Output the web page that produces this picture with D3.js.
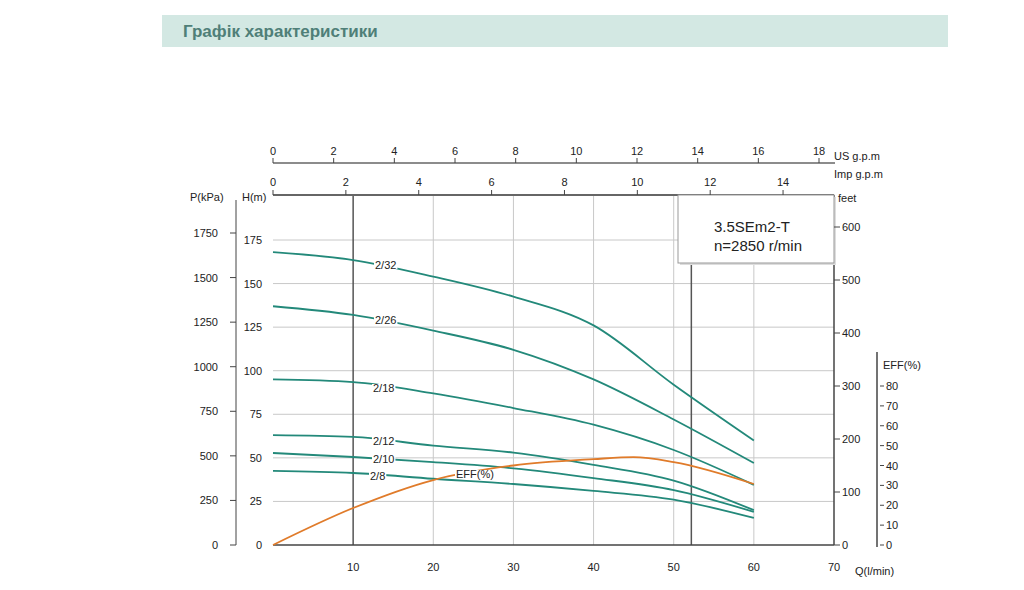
<!DOCTYPE html>
<meta charset="utf-8">
<head>
    <script src="https://cdnjs.cloudflare.com/ajax/libs/d3/7.8.5/d3.min.js"></script>
</head>
<style>
    body { margin: 0; background: #fff; }
    text { font-family: "Liberation Sans", Arial, sans-serif; fill: #222; }
</style>
<body>
<svg id="chart" width="1024" height="590"></svg>
<script>
// flow points (l/min)
var flow = [0, 10, 20, 30, 40, 50, 60];
// head curves (m)
var curves = [
    {name: "2/32", h: [168, 163.5, 154, 142.5, 126, 92, 60], lx: 386, ly: 265},
    {name: "2/26", h: [137, 132, 123, 112, 95, 72, 47], lx: 386, ly: 320},
    {name: "2/18", h: [95, 93.5, 87, 78.6, 69, 54.5, 34.5], lx: 384, ly: 388},
    {name: "2/12", h: [63, 62, 57, 53, 46, 37, 20], lx: 384, ly: 441},
    {name: "2/10", h: [52.8, 50.5, 47.6, 44, 38.4, 31.5, 19], lx: 384, ly: 459},
    {name: "2/8", h: [42.5, 41.3, 38, 35, 31, 26, 15.5], lx: 381, ly: 476}
];
var effFlow = [0, 10, 20, 30, 40, 45, 50, 60];
var effVals = [0, 18.6, 32.7, 40, 43.2, 44.2, 41.7, 30.7];
var pTicks = [0, 250, 500, 750, 1000, 1250, 1500, 1750];
var hTicks = [0, 25, 50, 75, 100, 125, 150, 175];
var ftTicks = [0, 100, 200, 300, 400, 500, 600];
var effTicks = [0, 10, 20, 30, 40, 50, 60, 70, 80];
var usTicks = [0, 2, 4, 6, 8, 10, 12, 14, 16, 18];
var impTicks = [0, 2, 4, 6, 8, 10, 12, 14];
var qTicks = [10, 20, 30, 40, 50, 60, 70];

var svg = d3.select("#chart");
var green = "#23897a", orange = "#e07b2a", gridC = "#c8c8c8", axC = "#444";

// title banner
svg.append("rect").attr("x", 162).attr("y", 15).attr("width", 786).attr("height", 32).attr("fill", "#d3e8e3");
svg.append("text").attr("x", 183).attr("y", 37).attr("font-size", 17).attr("font-weight", "bold")
    .style("fill", "#4f7f78").text("Графік характеристики");

var x = d3.scaleLinear().domain([0, 70]).range([273, 834]);
var y = d3.scaleLinear().domain([0, 175]).range([545, 240]);
var yP = d3.scaleLinear().domain([0, 1750]).range([545, 233]);
var yFt = d3.scaleLinear().domain([0, 600]).range([545, 227]);
var yEff = d3.scaleLinear().domain([0, 80]).range([545, 386]);
var xUs = d3.scaleLinear().domain([0, 1]).range([273, 273 + 3.785 * 561 / 70]);
var xImp = d3.scaleLinear().domain([0, 1]).range([273, 273 + 4.546 * 561 / 70]);

// grid
svg.append("g").selectAll("line").data(hTicks.slice(1)).join("line")
    .attr("x1", 273).attr("x2", 834).attr("y1", d => y(d)).attr("y2", d => y(d))
    .attr("stroke", gridC);
svg.append("g").selectAll("line").data([20, 30, 40, 50, 60]).join("line")
    .attr("x1", d => x(d)).attr("x2", d => x(d)).attr("y1", 195).attr("y2", 545)
    .attr("stroke", gridC);
svg.append("g").selectAll("line").data([10, 52.2]).join("line")
    .attr("x1", d => x(d)).attr("x2", d => x(d)).attr("y1", 195).attr("y2", 545)
    .attr("stroke", "#555").attr("stroke-width", 1.5);

// frame lines
svg.append("line").attr("x1", 273).attr("x2", 834).attr("y1", 195).attr("y2", 195).attr("stroke", "#666").attr("stroke-width", 2);
svg.append("line").attr("x1", 273).attr("x2", 834).attr("y1", 545).attr("y2", 545).attr("stroke", axC).attr("stroke-width", 1.5);
svg.append("line").attr("x1", 834).attr("x2", 834).attr("y1", 195).attr("y2", 545).attr("stroke", axC).attr("stroke-width", 1.5);

// model box
svg.append("rect").attr("x", 680).attr("y", 197).attr("width", 156).attr("height", 68).attr("fill", "#ddd");
svg.append("rect").attr("x", 678).attr("y", 195).attr("width", 156).attr("height", 68).attr("fill", "#fff").attr("stroke", "#999");
svg.append("text").attr("x", 714).attr("y", 232).attr("font-size", 15).text("3.5SEm2-T");
svg.append("text").attr("x", 714).attr("y", 251).attr("font-size", 15).text("n=2850 r/min");

// curves
var line = d3.line().curve(d3.curveMonotoneX);
curves.forEach(c => {
    svg.append("path").attr("d", line(flow.map((q, i) => [x(q), y(c.h[i])])))
        .attr("fill", "none").attr("stroke", green).attr("stroke-width", 1.8);
});
svg.append("path").attr("d", line(effFlow.map((q, i) => [x(q), yEff(effVals[i])])))
    .attr("fill", "none").attr("stroke", orange).attr("stroke-width", 1.8);

function label(tx, ty, t) {
    var g = svg.append("g");
    var tt = g.append("text").attr("x", tx).attr("y", ty).attr("font-size", 11).text(t);
    var b = tt.node().getBBox();
    g.insert("rect", "text").attr("x", b.x - 1).attr("y", b.y + 2).attr("width", b.width + 2).attr("height", b.height - 4).attr("fill", "#fff");
}
curves.forEach(c => label(c.lx - 11, c.ly + 4, c.name));
label(456, 478, "EFF(%)");

// left axes
svg.append("line").attr("x1", 236).attr("x2", 236).attr("y1", 200).attr("y2", 545).attr("stroke", axC);
svg.append("g").selectAll("line").data(pTicks).join("line")
    .attr("x1", 230).attr("x2", 236).attr("y1", d => yP(d)).attr("y2", d => yP(d)).attr("stroke", axC);
svg.append("g").selectAll("text").data(pTicks).join("text")
    .attr("x", 218).attr("y", d => yP(d) + 4).attr("text-anchor", "end").attr("font-size", 11).text(d => d);
svg.append("g").selectAll("text").data(hTicks).join("text")
    .attr("x", 262).attr("y", d => y(d) + 4).attr("text-anchor", "end").attr("font-size", 11).text(d => d);
svg.append("text").attr("x", 190).attr("y", 201).attr("font-size", 11).text("P(kPa)");
svg.append("text").attr("x", 242).attr("y", 201).attr("font-size", 11).text("H(m)");

// feet axis
svg.append("g").selectAll("line").data(ftTicks).join("line")
    .attr("x1", 834).attr("x2", 840).attr("y1", d => yFt(d)).attr("y2", d => yFt(d)).attr("stroke", axC);
svg.append("g").selectAll("text").data(ftTicks).join("text")
    .attr("x", 842).attr("y", d => yFt(d) + 4).attr("font-size", 11).text(d => d);
svg.append("text").attr("x", 838).attr("y", 202).attr("font-size", 11).text("feet");

// eff axis
svg.append("line").attr("x1", 877).attr("x2", 877).attr("y1", 352).attr("y2", 547).attr("stroke", axC).attr("stroke-width", 1.5);
svg.append("g").selectAll("line").data(effTicks).join("line")
    .attr("x1", 880).attr("x2", 884).attr("y1", d => yEff(d)).attr("y2", d => yEff(d)).attr("stroke", axC);
svg.append("g").selectAll("text").data(effTicks).join("text")
    .attr("x", 886).attr("y", d => yEff(d) + 4).attr("font-size", 11).text(d => d);
svg.append("text").attr("x", 883).attr("y", 369).attr("font-size", 11).text("EFF(%)");

// bottom axis labels
svg.append("g").selectAll("text").data(qTicks).join("text")
    .attr("x", d => x(d)).attr("y", 571).attr("text-anchor", "middle").attr("font-size", 11).text(d => d);
svg.append("text").attr("x", 855).attr("y", 575).attr("font-size", 11).text("Q(l/min)");

// top axes
svg.append("line").attr("x1", 273).attr("x2", 835).attr("y1", 163).attr("y2", 163).attr("stroke", "#666").attr("stroke-width", 1.5);
svg.append("g").selectAll("line").data(usTicks).join("line")
    .attr("x1", d => xUs(d)).attr("x2", d => xUs(d)).attr("y1", 158).attr("y2", 163).attr("stroke", axC);
svg.append("g").selectAll("text").data(usTicks).join("text")
    .attr("x", d => xUs(d)).attr("y", 155).attr("text-anchor", "middle").attr("font-size", 11).text(d => d);
svg.append("text").attr("x", 834).attr("y", 160).attr("font-size", 11).text("US  g.p.m");
svg.append("g").selectAll("line").data(impTicks).join("line")
    .attr("x1", d => xImp(d)).attr("x2", d => xImp(d)).attr("y1", 190).attr("y2", 195).attr("stroke", axC);
svg.append("g").selectAll("text").data(impTicks).join("text")
    .attr("x", d => xImp(d)).attr("y", 186).attr("text-anchor", "middle").attr("font-size", 11).text(d => d);
svg.append("text").attr("x", 834).attr("y", 178).attr("font-size", 11).text("Imp  g.p.m");
</script>
</body>
